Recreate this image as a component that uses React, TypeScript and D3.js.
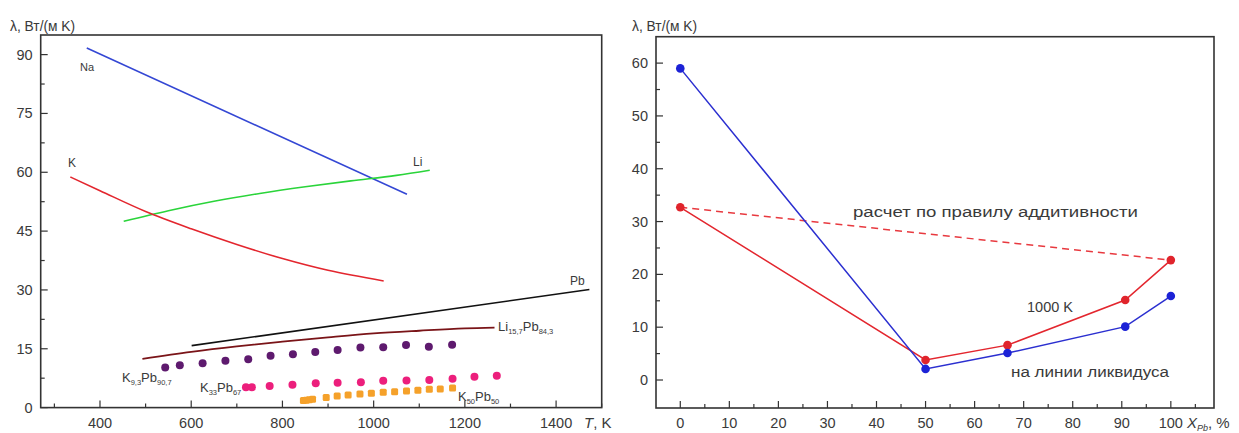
import React from "react";
import * as d3 from "d3";

// ---------- Left chart data ----------
const naT = [371, 1073];
const naL = [91.7, 54.4];
const kT = [335, 400, 500, 600, 700, 800, 900, 1022];
const kL = [58.8, 55.3, 50.0, 45.6, 41.6, 38.0, 35.0, 32.3];
const liT = [452, 550, 650, 750, 850, 950, 1050, 1123];
const liL = [47.5, 50.2, 52.6, 54.6, 56.3, 57.8, 59.2, 60.5];
const pbT = [601, 1473];
const pbL = [15.8, 30.1];
const lipbT = [493, 600, 700, 800, 900, 1000, 1100, 1200, 1265];
const lipbL = [12.4, 14.2, 15.6, 16.8, 17.9, 18.9, 19.6, 20.2, 20.4];
const k9T = [543, 575, 625, 675, 725, 774, 823, 872, 921, 971, 1021, 1071, 1121, 1172];
const k9L = [10.2, 10.8, 11.3, 11.95, 12.3, 13.2, 13.6, 14.2, 14.7, 15.3, 15.4, 15.95, 15.5, 16.05];
const k33T = [720, 733, 772, 822, 873, 921, 972, 1021, 1072, 1122, 1173, 1221, 1270];
const k33L = [5.2, 5.2, 5.5, 5.8, 6.2, 6.35, 6.45, 6.85, 6.9, 7.05, 7.35, 7.85, 8.15];
const k50T = [846, 852, 859, 866, 896, 920, 944, 970, 995, 1021, 1046, 1072, 1097, 1122, 1146, 1173];
const k50L = [1.8, 1.9, 2.0, 2.1, 2.6, 2.95, 3.2, 3.45, 3.65, 3.9, 4.05, 4.25, 4.4, 4.65, 4.75, 5.0];
const leftXTicks = [400, 600, 800, 1000, 1200, 1400];
const leftYTicks = [0, 15, 30, 45, 60, 75, 90];

// ---------- Right chart data ----------
const xPb = [0, 50, 66.7, 90.7, 100];
const liquidus = [59.0, 2.1, 5.1, 10.1, 15.9];
const at1000 = [32.7, 3.8, 6.6, 15.15, 22.7];
const additiveX = [0, 100];
const additiveL = [32.7, 22.7];
const rightXTicks = [0, 10, 20, 30, 40, 50, 60, 70, 80, 90, 100];
const rightYTicks = [0, 10, 20, 30, 40, 50, 60];

const FONT = "'Liberation Sans', Arial, sans-serif";
const TXT = "#3a3a3a";
const AX = "#333";

export default function App() {
  const lx = d3.scaleLinear().domain([270, 1500]).range([40.7, 601.7]);
  const ly = d3.scaleLinear().domain([0, 95]).range([407.6, 35]);
  const rx = d3.scaleLinear().domain([-4.95, 108.8]).range([656, 1214]);
  const ry = d3.scaleLinear().domain([-5.3, 65]).range([408, 36.7]);

  const lineL = (ts: number[], vs: number[], curve = d3.curveMonotoneX) =>
    d3
      .line<number>()
      .x((_, i) => lx(ts[i]))
      .y((_, i) => ly(vs[i]))
      .curve(curve)(ts) || "";
  const lineR = (xs: number[], vs: number[]) =>
    d3
      .line<number>()
      .x((_, i) => rx(xs[i]))
      .y((_, i) => ry(vs[i]))(xs) || "";

  const lMinorX = d3.range(300, 1501, 200);
  const lMinorY = d3.range(7.5, 95, 15);
  const rMinorX = d3.range(5, 106, 10);
  const rMinorY = d3.range(5, 65, 10);

  const [lx0, lx1] = lx.range();
  const [ly0, ly1] = ly.range();
  const [rx0, rx1] = rx.range();
  const [ry0, ry1] = ry.range();

  return (
    <svg
      width={1239}
      height={433}
      style={{ position: "absolute", left: 0, top: 0, background: "#fff" }}
      fontFamily={FONT}
    >
      <rect width={1239} height={433} fill="#fff" />
      {/* ================= LEFT CHART ================= */}
      <g>
        {leftXTicks.map((t) => (
          <line key={"lxt" + t} x1={lx(t)} x2={lx(t)} y1={ly0} y2={ly0 - 7} stroke={AX} strokeWidth={1.2} />
        ))}
        {lMinorX.map((t) => (
          <line key={"lxm" + t} x1={lx(t)} x2={lx(t)} y1={ly0} y2={ly0 - 4} stroke={AX} strokeWidth={1.2} />
        ))}
        {leftYTicks.map((t) => (
          <line key={"lyt" + t} x1={lx0} x2={lx0 + 7} y1={ly(t)} y2={ly(t)} stroke={AX} strokeWidth={1.2} />
        ))}
        {lMinorY.map((t) => (
          <line key={"lym" + t} x1={lx0} x2={lx0 + 4} y1={ly(t)} y2={ly(t)} stroke={AX} strokeWidth={1.2} />
        ))}
        {leftXTicks.map((t) => (
          <text key={"lxl" + t} x={lx(t)} y={428} textAnchor="middle" fontSize={14.5} fill={TXT}>
            {t}
          </text>
        ))}
        {leftYTicks.map((t) => (
          <text key={"lyl" + t} x={lx0 - 8} y={ly(t) + 5} textAnchor="end" fontSize={14.5} fill={TXT}>
            {t}
          </text>
        ))}
        <text x={10} y={31} fontSize={13.8} fill={TXT}>
          λ, Вт/(м K)
        </text>
        <text x={584} y={428} fontSize={15} fill={TXT}>
          <tspan fontStyle="italic">T</tspan>, K
        </text>

        <path d={lineL(naT, naL)} fill="none" stroke="#3447d4" strokeWidth={1.6} />
        <path d={lineL(liT, liL)} fill="none" stroke="#2ad43a" strokeWidth={1.6} />
        <path d={lineL(kT, kL)} fill="none" stroke="#e3262e" strokeWidth={1.6} />
        <path d={lineL(pbT, pbL)} fill="none" stroke="#111" strokeWidth={1.6} />
        <path d={lineL(lipbT, lipbL)} fill="none" stroke="#7a1418" strokeWidth={1.8} />

        {k9T.map((t, i) => (
          <circle key={"k9" + i} cx={lx(t)} cy={ly(k9L[i])} r={4} fill="#5e1a6e" />
        ))}
        {k33T.map((t, i) => (
          <circle key={"k33" + i} cx={lx(t)} cy={ly(k33L[i])} r={4} fill="#ec1f7c" />
        ))}
        {k50T.map((t, i) => (
          <rect
            key={"k50" + i}
            x={lx(t) - 3.5}
            y={ly(k50L[i]) - 3.5}
            width={7}
            height={7}
            rx={1.5}
            fill="#f5a12a"
          />
        ))}

        <text x={80} y={71} fontSize={11} fill={TXT}>Na</text>
        <text x={68} y={167} fontSize={12} fill={TXT}>K</text>
        <text x={413} y={166} fontSize={12} fill={TXT}>Li</text>
        <text x={570} y={285} fontSize={12} fill={TXT}>Pb</text>
        <text x={498} y={331} fontSize={13} fill={TXT}>
          Li<tspan fontSize={7.5} dy={3}>15,7</tspan>
          <tspan dy={-3}>Pb</tspan>
          <tspan fontSize={7.5} dy={3}>84,3</tspan>
        </text>
        <text x={122} y={382} fontSize={13} fill={TXT}>
          K<tspan fontSize={7.5} dy={3}>9,3</tspan>
          <tspan dy={-3}>Pb</tspan>
          <tspan fontSize={7.5} dy={3}>90,7</tspan>
        </text>
        <text x={200} y={392} fontSize={13} fill={TXT}>
          K<tspan fontSize={7.5} dy={3}>33</tspan>
          <tspan dy={-3}>Pb</tspan>
          <tspan fontSize={7.5} dy={3}>67</tspan>
        </text>
        <text x={458} y={401} fontSize={13} fill={TXT}>
          K<tspan fontSize={7.5} dy={3}>50</tspan>
          <tspan dy={-3}>Pb</tspan>
          <tspan fontSize={7.5} dy={3}>50</tspan>
        </text>

        <rect x={lx0} y={ly1} width={lx1 - lx0} height={ly0 - ly1} fill="none" stroke={AX} strokeWidth={1.6} />
      </g>

      {/* ================= RIGHT CHART ================= */}
      <g>
        {rightXTicks.map((t) => (
          <line key={"rxt" + t} x1={rx(t)} x2={rx(t)} y1={ry0} y2={ry0 - 7} stroke={AX} strokeWidth={1.2} />
        ))}
        {rMinorX.map((t) => (
          <line key={"rxm" + t} x1={rx(t)} x2={rx(t)} y1={ry0} y2={ry0 - 4} stroke={AX} strokeWidth={1.2} />
        ))}
        {rightYTicks.map((t) => (
          <line key={"ryt" + t} x1={rx0} x2={rx0 + 7} y1={ry(t)} y2={ry(t)} stroke={AX} strokeWidth={1.2} />
        ))}
        {rMinorY.map((t) => (
          <line key={"rym" + t} x1={rx0} x2={rx0 + 4} y1={ry(t)} y2={ry(t)} stroke={AX} strokeWidth={1.2} />
        ))}
        {rightXTicks.map((t) => (
          <text key={"rxl" + t} x={rx(t)} y={428} textAnchor="middle" fontSize={14.5} fill={TXT}>
            {t}
          </text>
        ))}
        {rightYTicks.map((t) => (
          <text key={"ryl" + t} x={rx0 - 8} y={ry(t) + 5} textAnchor="end" fontSize={14.5} fill={TXT}>
            {t}
          </text>
        ))}
        <text x={632} y={31} fontSize={13.8} fill={TXT}>
          λ, Вт/(м K)
        </text>
        <text x={1187} y={428} fontSize={15} fill={TXT}>
          <tspan fontStyle="italic">X</tspan>
          <tspan fontSize={9} dy={3} fontStyle="italic">Pb</tspan>
          <tspan dy={-3}>, %</tspan>
        </text>

        <path d={lineR(additiveX, additiveL)} fill="none" stroke="#e8393f" strokeWidth={1.5} strokeDasharray="7,5" />
        <path d={lineR(xPb, at1000)} fill="none" stroke="#e3262e" strokeWidth={1.5} />
        <path d={lineR(xPb, liquidus)} fill="none" stroke="#2b2fd0" strokeWidth={1.5} />
        {xPb.map((x, i) => (
          <circle key={"r1" + i} cx={rx(x)} cy={ry(at1000[i])} r={4.3} fill="#e0242c" />
        ))}
        {xPb.map((x, i) => (
          <circle key={"r2" + i} cx={rx(x)} cy={ry(liquidus[i])} r={4.3} fill="#1c22d6" />
        ))}

        <text x={853} y={217} fontSize={15.5} fill={TXT} textLength={285} lengthAdjust="spacingAndGlyphs">
          расчет по правилу аддитивности
        </text>
        <text x={1027} y={312} fontSize={14.5} fill={TXT}>
          1000 K
        </text>
        <text x={1011} y={377} fontSize={15.5} fill={TXT} textLength={158} lengthAdjust="spacingAndGlyphs">
          на линии ликвидуса
        </text>

        <rect x={rx0} y={ry1} width={rx1 - rx0} height={ry0 - ry1} fill="none" stroke={AX} strokeWidth={1.6} />
      </g>
    </svg>
  );
}
